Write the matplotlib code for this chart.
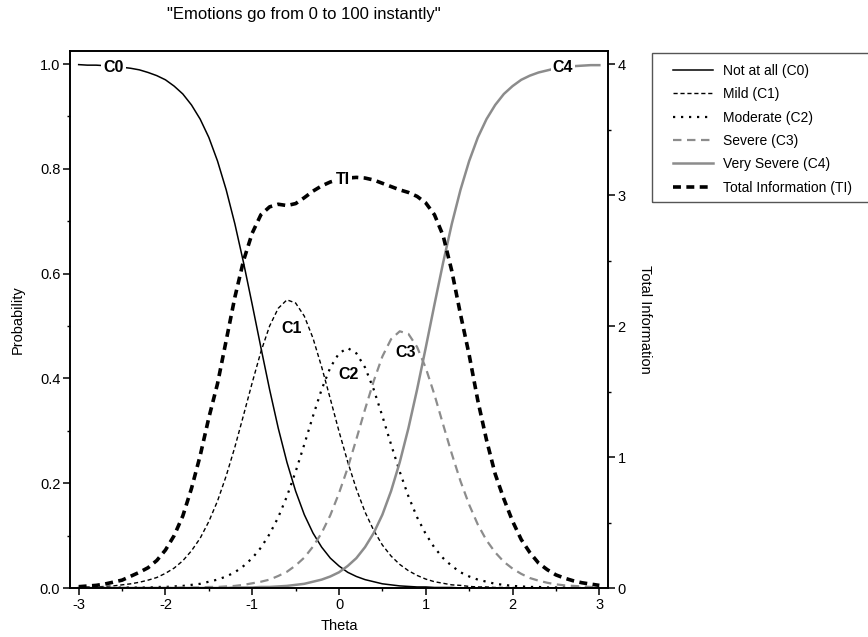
import matplotlib
matplotlib.use("Agg")
import matplotlib.pyplot as plt
from matplotlib.ticker import MultipleLocator
from matplotlib.patches import Rectangle

plt.rcParams['font.family'] = ['Liberation Sans', 'DejaVu Sans']
plt.rcParams['axes.unicode_minus'] = False

# theta grid
theta = [-3.0, -2.9, -2.8, -2.7, -2.6, -2.5, -2.4, -2.3, -2.2, -2.1,
         -2.0, -1.9, -1.8, -1.7, -1.6, -1.5, -1.4, -1.3, -1.2, -1.1,
         -1.0, -0.9, -0.8, -0.7, -0.6, -0.5, -0.4, -0.3, -0.2, -0.1,
         0.0, 0.1, 0.2, 0.3, 0.4, 0.5, 0.6, 0.7, 0.8, 0.9,
         1.0, 1.1, 1.2, 1.3, 1.4, 1.5, 1.6, 1.7, 1.8, 1.9,
         2.0, 2.1, 2.2, 2.3, 2.4, 2.5, 2.6, 2.7, 2.8, 2.9, 3.0]

c0 = [0.999, 0.998, 0.998, 0.997, 0.996, 0.994, 0.992, 0.989, 0.984, 0.978,
      0.970, 0.958, 0.943, 0.922, 0.895, 0.860, 0.815, 0.760, 0.695, 0.621,
      0.541, 0.459, 0.379, 0.305, 0.240, 0.185, 0.140, 0.105, 0.078, 0.057,
      0.042, 0.030, 0.022, 0.016, 0.012, 0.008, 0.006, 0.004, 0.003, 0.002,
      0.002, 0.001, 0.001, 0.001, 0.000, 0.000, 0.000, 0.000, 0.000, 0.000,
      0.000, 0.000, 0.000, 0.000, 0.000, 0.000, 0.000, 0.000, 0.000, 0.000, 0.000]

c1 = [0.001, 0.002, 0.002, 0.003, 0.004, 0.006, 0.008, 0.011, 0.015, 0.020,
      0.028, 0.038, 0.052, 0.071, 0.095, 0.127, 0.166, 0.214, 0.269, 0.330,
      0.392, 0.451, 0.500, 0.534, 0.550, 0.544, 0.519, 0.477, 0.422, 0.361,
      0.299, 0.241, 0.189, 0.145, 0.110, 0.082, 0.061, 0.045, 0.033, 0.024,
      0.017, 0.012, 0.009, 0.006, 0.005, 0.003, 0.002, 0.002, 0.001, 0.001,
      0.001, 0.000, 0.000, 0.000, 0.000, 0.000, 0.000, 0.000, 0.000, 0.000, 0.000]

c2 = [0.000, 0.000, 0.000, 0.000, 0.000, 0.001, 0.001, 0.001, 0.001, 0.002,
      0.002, 0.003, 0.004, 0.006, 0.008, 0.012, 0.016, 0.022, 0.030, 0.042,
      0.057, 0.077, 0.103, 0.135, 0.175, 0.222, 0.274, 0.328, 0.379, 0.421,
      0.448, 0.458, 0.448, 0.421, 0.379, 0.328, 0.274, 0.222, 0.175, 0.135,
      0.103, 0.077, 0.057, 0.042, 0.030, 0.022, 0.016, 0.012, 0.008, 0.006,
      0.004, 0.003, 0.002, 0.002, 0.001, 0.001, 0.001, 0.000, 0.000, 0.000, 0.000]

c3 = [0.000, 0.000, 0.000, 0.000, 0.000, 0.000, 0.000, 0.000, 0.000, 0.000,
      0.000, 0.000, 0.001, 0.001, 0.001, 0.002, 0.002, 0.003, 0.004, 0.006,
      0.009, 0.012, 0.016, 0.023, 0.031, 0.043, 0.058, 0.079, 0.105, 0.139,
      0.181, 0.229, 0.284, 0.341, 0.395, 0.442, 0.475, 0.490, 0.485, 0.460,
      0.420, 0.369, 0.312, 0.256, 0.204, 0.159, 0.121, 0.091, 0.068, 0.050,
      0.037, 0.027, 0.019, 0.014, 0.010, 0.007, 0.005, 0.004, 0.003, 0.002, 0.001]

c4 = [0.000, 0.000, 0.000, 0.000, 0.000, 0.000, 0.000, 0.000, 0.000, 0.000,
      0.000, 0.000, 0.000, 0.000, 0.000, 0.000, 0.000, 0.000, 0.001, 0.001,
      0.001, 0.002, 0.002, 0.003, 0.004, 0.006, 0.008, 0.012, 0.016, 0.022,
      0.030, 0.042, 0.057, 0.078, 0.105, 0.140, 0.185, 0.240, 0.305, 0.379,
      0.459, 0.541, 0.621, 0.695, 0.760, 0.815, 0.860, 0.895, 0.922, 0.943,
      0.958, 0.970, 0.978, 0.984, 0.988, 0.992, 0.994, 0.996, 0.997, 0.998, 0.998]

total_info = [0.01, 0.015, 0.02, 0.03, 0.045, 0.06, 0.09, 0.12, 0.155, 0.21,
              0.29, 0.40, 0.55, 0.76, 1.01, 1.30, 1.56, 1.89, 2.22, 2.50,
              2.71, 2.85, 2.91, 2.93, 2.92, 2.935, 2.98, 3.03, 3.07, 3.10,
              3.12, 3.13, 3.135, 3.13, 3.115, 3.09, 3.065, 3.04, 3.02, 2.99,
              2.94, 2.85, 2.69, 2.42, 2.09, 1.78, 1.43, 1.13, 0.87, 0.68,
              0.51, 0.37, 0.27, 0.19, 0.14, 0.10, 0.075, 0.055, 0.04, 0.03, 0.02]

legend_labels = ['Not at all (C0)', 'Mild (C1)', 'Moderate (C2)',
                 'Severe (C3)', 'Very Severe (C4)', 'Total Information (TI)']

gray = '#8c8c8c'
W, H = 868, 637

fig = plt.figure(figsize=(8.68, 6.37), dpi=100)
ax = fig.add_axes([70/W, 1 - 588/H, 538/W, 537/H])
ax2 = ax.twinx()

l0, = ax.plot(theta, c0, color='black', lw=1.1)
l1, = ax.plot(theta, c1, color='black', lw=1.0, linestyle=(0, (3, 2)))
l2, = ax.plot(theta, c2, color='black', lw=1.6, linestyle=(0, (1, 2.6)))
l3, = ax.plot(theta, c3, color=gray, lw=1.6, linestyle=(0, (3.8, 2.5)))
l4, = ax.plot(theta, c4, color=gray, lw=1.8)
l5, = ax2.plot(theta, total_info, color='black', lw=2.6, linestyle=(0, (2.2, 1.5)))

ax.set_xlim(-3.1, 3.1)
ax.set_ylim(0, 1.025)
ax2.set_ylim(0, 4.1)

ax.xaxis.set_major_locator(MultipleLocator(1))
ax.xaxis.set_minor_locator(MultipleLocator(0.5))
ax.yaxis.set_major_locator(MultipleLocator(0.2))
ax.yaxis.set_minor_locator(MultipleLocator(0.1))
ax.yaxis.set_major_formatter(plt.FormatStrFormatter('%.1f'))
ax2.yaxis.set_major_locator(MultipleLocator(1))
ax2.yaxis.set_minor_locator(MultipleLocator(0.5))

for a in (ax, ax2):
    a.tick_params(which='major', direction='out', length=5, width=1.1,
                  labelsize=10.5, pad=2)
    a.tick_params(which='minor', direction='out', length=2.5, width=1.0)
    for s in a.spines.values():
        s.set_linewidth(1.2)
ax.tick_params(top=False, right=False, which='both')

ax.set_xlabel('Theta', fontsize=10.5)
ax.set_ylabel('Probability', fontsize=10.5)
ax.yaxis.set_label_coords(-0.085, 0.5)
ax.xaxis.set_label_coords(0.5, -0.058)
ax2.set_ylabel('Total Information', fontsize=10.5, rotation=270, va='bottom', labelpad=9)

# curve labels
box = dict(facecolor='white', edgecolor='none', pad=1.5)
ax.text(-2.6, 0.993, 'C0', fontsize=11.5, fontweight='bold', ha='center', va='center', bbox=box)
ax.text(2.58, 0.993, 'C4', fontsize=11.5, fontweight='bold', ha='center', va='center', bbox=box)
ax.text(-0.55, 0.496, 'C1', fontsize=11.5, fontweight='bold', ha='center', va='center')
ax.text(0.115, 0.407, 'C2', fontsize=11.5, fontweight='bold', ha='center', va='center')
ax.text(0.77, 0.449, 'C3', fontsize=11.5, fontweight='bold', ha='center', va='center')
ax2.text(0.05, 3.12, 'TI', fontsize=11.5, fontweight='bold', ha='center', va='center', bbox=box)

fig.text(304/W, 1 - 15/H, '"Emotions go from 0 to 100 instantly"',
         fontsize=12, ha='center', va='center')

# legend frame runs off the right edge of the figure
fig.patches.append(Rectangle((652/W, 1 - 202/H), 230/W, 149/H, transform=fig.transFigure,
                             fill=False, edgecolor='#555555', lw=1.0))
fig.legend([l0, l1, l2, l3, l4, l5], legend_labels,
           loc='upper left', bbox_to_anchor=(673/W, 1 - 64/H),
           fontsize=10, frameon=False,
           handlelength=2.9, handletextpad=0.7, labelspacing=0.67,
           borderpad=0, borderaxespad=0)

fig.savefig('out.png', dpi=100)
